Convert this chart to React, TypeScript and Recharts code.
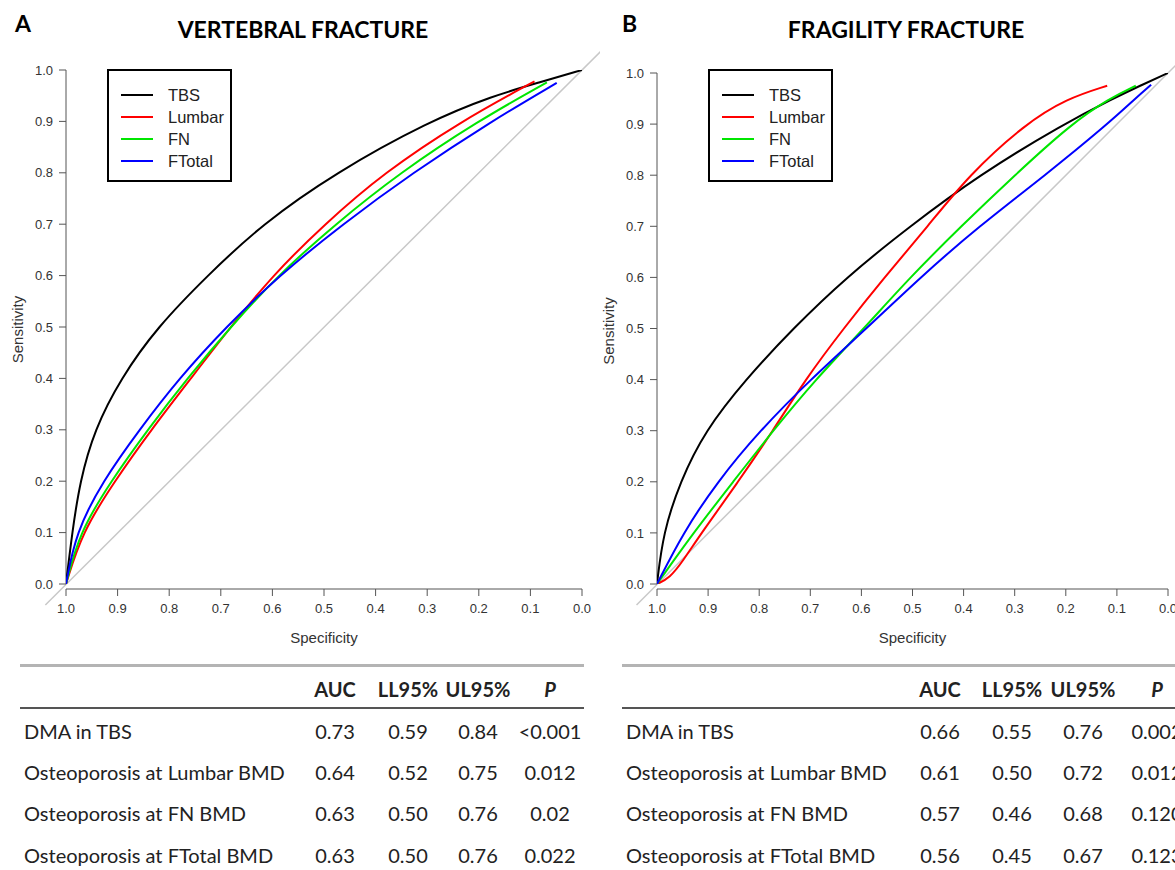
import { LineChart, Line, XAxis, YAxis, ReferenceLine, Legend, Label } from "recharts";

const SPEC_TICKS = [1, 0.9, 0.8, 0.7, 0.6, 0.5, 0.4, 0.3, 0.2, 0.1, 0];
const SENS_TICKS = [0, 0.1, 0.2, 0.3, 0.4, 0.5, 0.6, 0.7, 0.8, 0.9, 1];

const SERIES = [
  { name: "TBS", color: "#000000" },
  { name: "Lumbar", color: "#ff0000" },
  { name: "FN", color: "#00e600" },
  { name: "FTotal", color: "#0000ff" },
];

// A - vertebral fracture (specificity / sensitivity pairs)
const vertTbsSpec = [1, 0.988, 0.973, 0.945, 0.894, 0.823, 0.726, 0.62, 0.478, 0.297, 0.172, 0.082, 0];
const vertTbsSens = [0, 0.1, 0.2, 0.3, 0.4, 0.5, 0.6, 0.7, 0.8, 0.9, 0.95, 0.976, 1];
const vertLumbarSpec = [1, 0.969, 0.906, 0.835, 0.758, 0.681, 0.6, 0.499, 0.384, 0.235, 0.092];
const vertLumbarSens = [0, 0.1, 0.2, 0.3, 0.4, 0.5, 0.6, 0.7, 0.8, 0.9, 0.978];
const vertFnSpec = [1, 0.974, 0.913, 0.842, 0.765, 0.681, 0.59, 0.478, 0.353, 0.203, 0.068];
const vertFnSens = [0, 0.1, 0.2, 0.3, 0.4, 0.5, 0.6, 0.7, 0.8, 0.9, 0.976];
const vertFtotalSpec = [1, 0.981, 0.929, 0.858, 0.781, 0.69, 0.587, 0.464, 0.328, 0.176, 0.049];
const vertFtotalSens = [0, 0.1, 0.2, 0.3, 0.4, 0.5, 0.6, 0.7, 0.8, 0.9, 0.975];

// B - fragility fracture
const fragTbsSpec = [1, 0.988, 0.955, 0.906, 0.827, 0.734, 0.63, 0.505, 0.37, 0.205, 0.107, 0.055, 0];
const fragTbsSens = [0, 0.1, 0.2, 0.3, 0.4, 0.5, 0.6, 0.7, 0.8, 0.9, 0.95, 0.975, 1];
const fragLumbarSpec = [1, 0.975, 0.95, 0.913, 0.841, 0.773, 0.71, 0.635, 0.555, 0.47, 0.39, 0.28, 0.198, 0.119];
const fragLumbarSens = [0, 0.012, 0.044, 0.1, 0.2, 0.3, 0.4, 0.5, 0.6, 0.7, 0.8, 0.9, 0.95, 0.975];
const fragFnSpec = [1, 0.929, 0.851, 0.773, 0.69, 0.595, 0.505, 0.405, 0.3, 0.19, 0.115, 0.063];
const fragFnSens = [0, 0.1, 0.2, 0.3, 0.4, 0.5, 0.6, 0.7, 0.8, 0.9, 0.95, 0.975];
const fragFtotalSpec = [1, 0.949, 0.882, 0.799, 0.7, 0.59, 0.485, 0.37, 0.24, 0.118, 0.064, 0.033];
const fragFtotalSens = [0, 0.1, 0.2, 0.3, 0.4, 0.5, 0.6, 0.7, 0.8, 0.9, 0.95, 0.977];

// tables
const TABLE_HEAD = ["AUC", "LL95%", "UL95%", "P"];
const ROW_LABELS = ["DMA in TBS", "Osteoporosis at Lumbar BMD", "Osteoporosis at FN BMD", "Osteoporosis at FTotal BMD"];
const vertRows = [
  ["0.73", "0.59", "0.84", "<0.001"],
  ["0.64", "0.52", "0.75", "0.012"],
  ["0.63", "0.50", "0.76", "0.02"],
  ["0.63", "0.50", "0.76", "0.022"],
];
const fragRows = [
  ["0.66", "0.55", "0.76", "0.002"],
  ["0.61", "0.50", "0.72", "0.012"],
  ["0.57", "0.46", "0.68", "0.120"],
  ["0.56", "0.45", "0.67", "0.123"],
];

const zip = (spec: number[], sens: number[]) => spec.map((s, i) => ({ spec: s, sens: sens[i] }));

const vertCurves = [
  zip(vertTbsSpec, vertTbsSens),
  zip(vertLumbarSpec, vertLumbarSens),
  zip(vertFnSpec, vertFnSens),
  zip(vertFtotalSpec, vertFtotalSens),
];
const fragCurves = [
  zip(fragTbsSpec, fragTbsSens),
  zip(fragLumbarSpec, fragLumbarSens),
  zip(fragFnSpec, fragFnSens),
  zip(fragFtotalSpec, fragFtotalSens),
];

const AXIS = "#555";
const TXT = "#333";
const PLOT_FONT = "'Liberation Sans', Arial, sans-serif";
const SANS = "Lato, 'Open Sans', sans-serif";

function LegendBox() {
  return (
    <div style={{ width: 125, height: 113, boxSizing: "border-box", border: "2px solid #000", background: "#fff", paddingTop: 13 }}>
      {SERIES.map((s) => (
        <div key={s.name} style={{ display: "flex", alignItems: "center", height: 22 }}>
          <div style={{ marginLeft: 12, width: 32, height: 2.5, background: s.color }} />
          <span style={{ marginLeft: 15, fontFamily: PLOT_FONT, fontSize: 16.5, color: "#222" }}>{s.name}</span>
        </div>
      ))}
    </div>
  );
}

function RocPanel({ curves, left, mLeft, mRight, mTop, legendLeft }: any) {
  return (
    <div style={{ position: "absolute", left, top: 0 }}>
      <LineChart width={600} height={660} margin={{ top: mTop, right: mRight, bottom: 11, left: mLeft }}>
        <XAxis
          type="number" dataKey="spec" domain={[0, 1]} reversed allowDataOverflow ticks={SPEC_TICKS}
          tickFormatter={(v: number) => v.toFixed(1)} height={60} tickSize={7} tickMargin={8}
          axisLine={{ stroke: AXIS }} tickLine={{ stroke: AXIS }}
          tick={{ fill: TXT, fontSize: 13, fontFamily: PLOT_FONT }}
        >
          <Label value="Specificity" position="insideBottom" offset={6} style={{ fill: TXT, fontSize: 15, fontFamily: PLOT_FONT }} />
        </XAxis>
        <YAxis
          type="number" dataKey="sens" domain={[0, 1]} allowDataOverflow ticks={SENS_TICKS} padding={{ top: 0, bottom: 5 }}
          tickFormatter={(v: number) => v.toFixed(1)} width={60} tickSize={7} tickMargin={6}
          axisLine={false} tickLine={{ stroke: AXIS }}
          tick={{ fill: TXT, fontSize: 13, fontFamily: PLOT_FONT }}
        >
          <Label
            content={(p: any) => {
              const vb = p.viewBox;
              const cx = vb.x + 11;
              const cy = vb.y + vb.height / 2;
              return (
                <text x={cx} y={cy} transform={`rotate(-90 ${cx} ${cy})`} textAnchor="middle" dominantBaseline="central"
                  style={{ fill: TXT, fontSize: 15, fontFamily: PLOT_FONT }}>Sensitivity</text>
              );
            }}
          />
        </YAxis>
        <ReferenceLine segment={[{ x: 1.04, y: -0.041 }, { x: -0.04, y: 1.04 }]} stroke="#c8c8c8" strokeWidth={1.5} ifOverflow="visible" />
        <ReferenceLine segment={[{ x: 1, y: 0 }, { x: 1, y: 1 }]} stroke={AXIS} strokeWidth={1} ifOverflow="visible" />
        {SERIES.map((s, i) => (
          <Line key={s.name} data={curves[i]} dataKey="sens" name={s.name} type="basis" stroke={s.color}
            strokeWidth={2} dot={false} activeDot={false} isAnimationActive={false} />
        ))}
        <Legend layout="vertical" align="center" verticalAlign="middle" content={() => <LegendBox />}
          wrapperStyle={{ left: legendLeft, top: 69, width: 125, height: 113 }} />
      </LineChart>
    </div>
  );
}

function StatTable({ left, width, cols, rows }: any) {
  const rowY = [731, 772, 813, 855];
  const cell = (x: number, y: number, text: string, extra: any = {}) => (
    <div style={{ position: "absolute", left: x - 60, width: 120, top: y - 13, height: 26, lineHeight: "26px", textAlign: "center", ...extra }}>{text}</div>
  );
  return (
    <div style={{ position: "absolute", left: 0, top: 0, fontFamily: SANS, fontSize: 20, color: "#222" }}>
      <div style={{ position: "absolute", left, top: 664, width, height: 3, background: "#b4b4b4" }} />
      <div style={{ position: "absolute", left, top: 707, width, height: 1.5, background: "#555" }} />
      {TABLE_HEAD.map((h, i) => cell(cols[i], 689, h, { fontWeight: 700, fontStyle: h === "P" ? "italic" : "normal" }))}
      {ROW_LABELS.map((lab, r) => (
        <div key={lab} style={{ position: "absolute", left: left + 4, top: rowY[r] - 13, height: 26, lineHeight: "26px", whiteSpace: "nowrap" }}>{lab}</div>
      ))}
      {rows.map((row: string[], r: number) => row.map((v, c) => cell(cols[c], rowY[r], v)))}
    </div>
  );
}

export default function App() {
  return (
    <div style={{ position: "fixed", left: 0, top: 0, width: 1175, height: 870, overflow: "hidden", background: "#fff" }}>
      <div style={{ position: "absolute", left: 15, top: 9, fontFamily: SANS, fontWeight: 700, fontSize: 23 }}>A</div>
      <div style={{ position: "absolute", left: 622, top: 9, fontFamily: SANS, fontWeight: 700, fontSize: 23 }}>B</div>
      <div style={{ position: "absolute", left: 0, width: 606, top: 15, textAlign: "center", fontFamily: SANS, fontWeight: 700, fontSize: 23 }}>VERTEBRAL FRACTURE</div>
      <div style={{ position: "absolute", left: 606, width: 600, top: 15, textAlign: "center", fontFamily: SANS, fontWeight: 700, fontSize: 23 }}>FRAGILITY FRACTURE</div>

      <RocPanel curves={vertCurves} left={0} mLeft={6} mRight={18} mTop={70} legendLeft={107} />
      <RocPanel curves={fragCurves} left={590} mLeft={7} mRight={22} mTop={73} legendLeft={118} />

      <StatTable left={20} width={564} cols={[335, 408, 478, 550]} rows={vertRows} />
      <StatTable left={622} width={560} cols={[940, 1012, 1083, 1157]} rows={fragRows} />
    </div>
  );
}
